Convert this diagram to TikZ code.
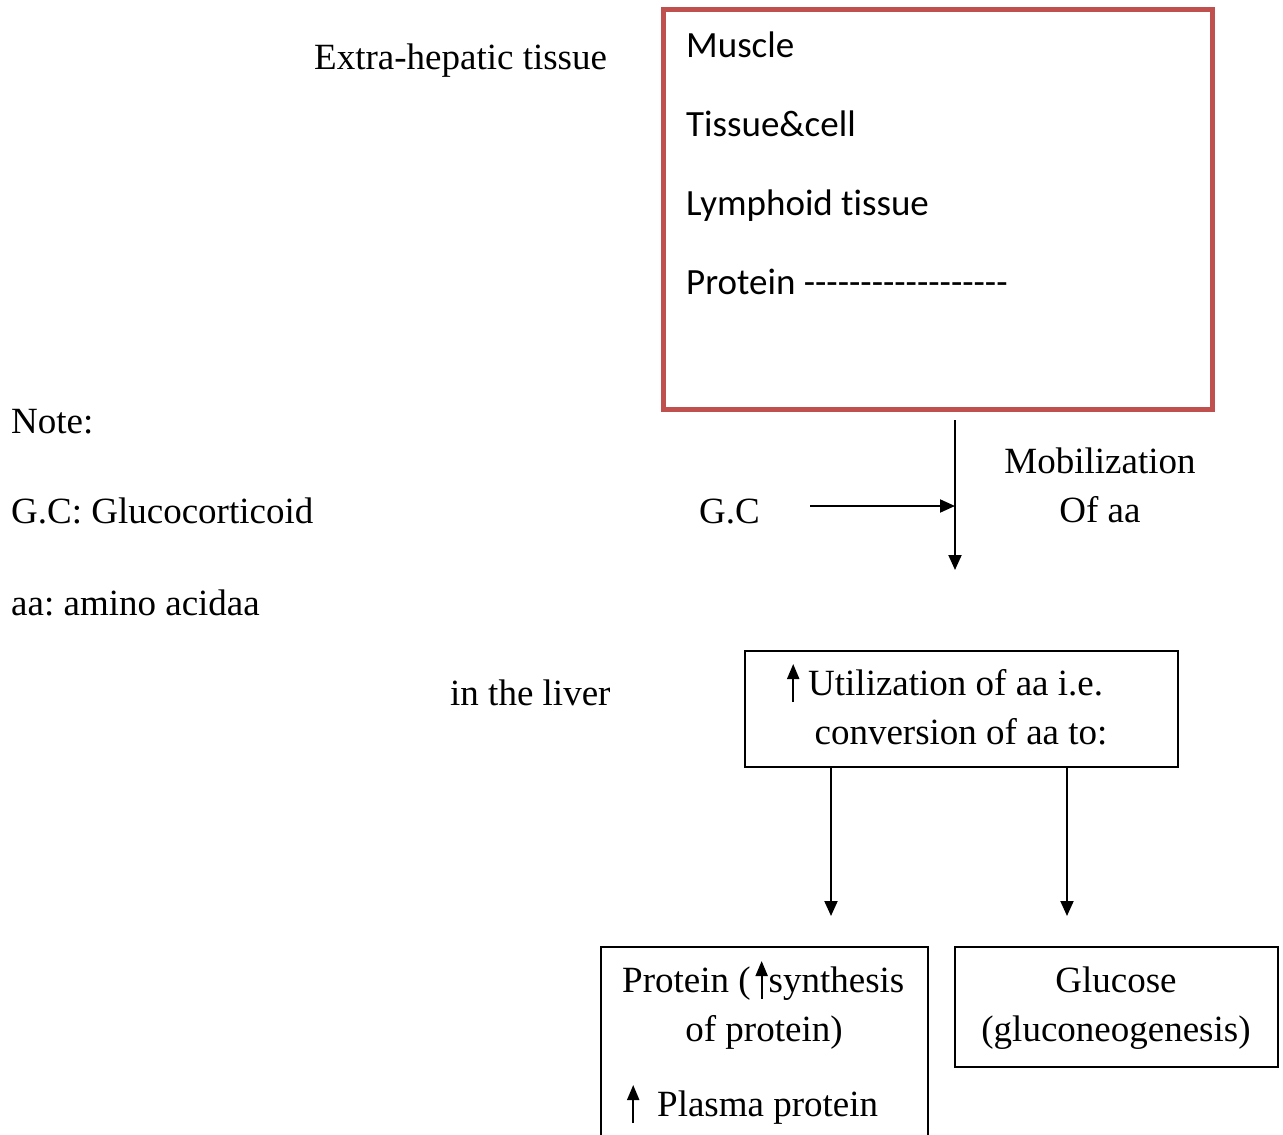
\documentclass[tikz,border=0pt]{standalone}
\usepackage{fontspec}
\setmainfont{Liberation Serif}
\newfontfamily\calib[Ligatures=NoCommon]{Carlito}
\usetikzlibrary{arrows.meta}
\definecolor{boxred}{RGB}{192,80,77}
\newcommand\uparr{\tikz[baseline=0pt]{\useasboundingbox (-6pt,-7pt) rectangle (6pt,31pt);\draw[line width=2pt,-{Triangle[length=15pt,width=12pt]}] (0pt,-7pt)--(0pt,31pt);}}
\tikzset{
  txt/.style={inner sep=0pt, font=\frenchspacing\fontsize{37}{49}\selectfont},
  ctxt/.style={inner sep=0pt, font=\calib\frenchspacing\fontsize{37}{49}\selectfont},
  blackbox/.style={draw=black, line width=1.5pt, rectangle, inner sep=0pt},
  redbox/.style={draw=boxred, line width=5pt, rectangle, inner sep=0pt},
  arr/.style={line width=2pt, -{Triangle[length=15pt,width=13pt]}},
}
\begin{document}
\begin{tikzpicture}[x=1pt,y=-1pt]
\clip (0,0) rectangle (1283,1135);
\fill[white] (0,0) rectangle (1283,1135);

% red box
\node[redbox, minimum width=549pt, minimum height=400pt] (tissue) at (938,209.5) {};
\node[ctxt, anchor=base west] (muscle) at (686,57) {Muscle};
\node[ctxt, anchor=base west] (cell) at (686,136) {Tissue\&cell};
\node[ctxt, anchor=base west] (lymph) at (686,215) {Lymphoid tissue};
\node[ctxt, anchor=base west] (prot) at (686,294) {Protein ------------------};

\node[txt, anchor=base west] (extra) at (314,69) {Extra-hepatic tissue};
\node[txt, anchor=base west] (note) at (11,433) {Note:};
\node[txt, anchor=base west] (gcdef) at (11,523) {G.C: Glucocorticoid};
\node[txt, anchor=base west] (aadef) at (11,615) {aa: amino acidaa};
\node[txt, anchor=base west] (liver) at (450,705) {in the liver};
\node[txt, anchor=base west] (gc) at (699,523) {G.C};
\node[txt, anchor=base] (mob1) at (1100,473) {Mobilization};
\node[txt, anchor=base] (mob2) at (1100,522) {Of aa};

% mobilization arrows
\coordinate (mobtop) at (955,420);
\coordinate (mobend) at (955,570);
\coordinate (gcstart) at (810,506);
\draw[arr] (mobtop) -- (mobend);
\draw[arr] (gcstart) -- (gcstart -| mobtop);

% utilization box
\node[blackbox, minimum width=433pt, minimum height=116pt] (util) at (961.5,709) {};
\node[txt, anchor=base west] (util1) at (787,695) {\uparr\hspace{9pt}Utilization of aa i.e.};
\node[txt, anchor=base] (util2) at (961,744) {conversion of aa to:};

\coordinate (pend) at (831,916);
\coordinate (gend) at (1067,916);
\draw[arr] (util.south -| pend) -- (pend);
\draw[arr] (util.south -| gend) -- (gend);

% bottom boxes
\node[blackbox, minimum width=327pt, minimum height=223pt] (protbox) at (764.5,1058.5) {};
\node[txt, anchor=base west] (p1) at (622,992) {Protein (\hspace{5pt}\uparr\hspace{1pt}synthesis};
\node[txt, anchor=base] (p2) at (764,1041) {of protein)};
\node[txt, anchor=base west] (p3) at (627,1116) {\uparr\hspace{18pt}Plasma protein};

\node[blackbox, minimum width=323pt, minimum height=120pt] (glubox) at (1116.5,1007) {};
\node[txt, anchor=base] (g1) at (1116,992) {Glucose};
\node[txt, anchor=base] (g2) at (1116,1041) {(gluconeogenesis)};
\end{tikzpicture}
\end{document}
